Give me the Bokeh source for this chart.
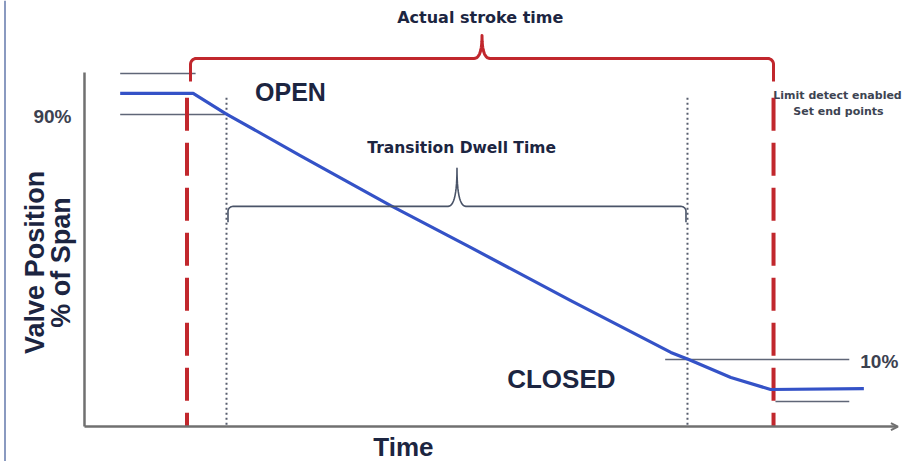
import numpy as np
from bokeh.plotting import figure
from bokeh.models import Range1d, Label, Arrow, OpenHead
from bokeh.embed import file_html
from bokeh.resources import INLINE

# ---------------- data (time in arbitrary units, position in % of span) -------------
curve_time = [4.4, 13.4, 17.4, 26.6, 37.7, 47.6, 59.9, 72.3, 74.5, 79.7, 84.6, 96.1]
curve_pos = [96.9, 96.9, 90.3, 76.6, 60.3, 46.6, 29.3, 12.3, 10.0, 4.1, 0.2, 0.5]

ninety_pct = 90.0
ten_pct = 10.0
open_band_pct = 103.4
closed_band_pct = -3.7

ninety_span = [4.4, 17.3]
open_band_span = [4.4, 13.7]
ten_span = [71.6, 94.3]
closed_band_span = [85.2, 94.3]

stroke_start, stroke_end = 12.64, 84.96
dwell_start, dwell_end = 17.51, 74.35

time_max = 100.3
axis_pos_min, axis_pos_max = -11.9, 103.7
marker_top_pct = 95.5

# ---------------- figure ----------------
W, H = 913, 461
xr = (-10.357, 102.219)
yr = (-23.31, 127.22)
PXX = W / (xr[1] - xr[0])   # px per time unit
PXY = H / (yr[1] - yr[0])   # px per % unit

p = figure(width=W, height=H, x_range=Range1d(*xr), y_range=Range1d(*yr),
           output_backend="svg", toolbar_location=None, min_border=0,
           x_axis_location=None, y_axis_location=None, outline_line_color=None,
           background_fill_color="white", border_fill_color="white")
p.grid.grid_line_color = None

NAVY = "#1c2541"
RED = "#c1272d"
BLUE = "#3452c7"
THIN = "#5f6677"
AXIS = "#707070"

# left frame border
bx0 = xr[0] + 4.5 / PXX
p.segment(x0=[bx0], y0=[yr[0]], x1=[bx0], y1=[yr[1]], line_color="#8a9ac0", line_width=2)

# axes
p.segment(x0=[0], y0=[axis_pos_min], x1=[0], y1=[axis_pos_max], line_color=AXIS, line_width=2.5)
p.add_layout(Arrow(end=OpenHead(size=7, line_color=AXIS, line_width=2),
                   x_start=0, y_start=axis_pos_min, x_end=time_max, y_end=axis_pos_min,
                   line_color=AXIS, line_width=2.5))

# thin reference lines
p.segment(x0=[open_band_span[0], ninety_span[0], ten_span[0], closed_band_span[0]],
          y0=[open_band_pct, ninety_pct, ten_pct, closed_band_pct],
          x1=[open_band_span[1], ninety_span[1], ten_span[1], closed_band_span[1]],
          y1=[open_band_pct, ninety_pct, ten_pct, closed_band_pct],
          line_color=THIN, line_width=1.6)

# dotted dwell markers
for t in (dwell_start, dwell_end):
    p.line([t, t], [marker_top_pct, axis_pos_min], line_color="#585e6e",
           line_width=2, line_dash="2 3")

# red dashed stroke markers
for t in (stroke_start, stroke_end):
    p.line([t, t], [marker_top_pct, axis_pos_min], line_color=RED,
           line_width=4, line_dash="33 12")

# valve position curve
p.line(curve_time, curve_pos, line_color=BLUE, line_width=3.2, line_join="round")


def brace(x0, x1, ybar, drop, tip, w, r):
    """Curly bracket between times x0 and x1 at level ybar; sizes in px."""
    dx, dy = 1.0 / PXX, 1.0 / PXY
    xm = 0.5 * (x0 + x1)
    xs, ys = [x0], [ybar - drop * dy]
    for a in np.linspace(np.pi, np.pi / 2, 10):
        xs.append(x0 + r * dx + r * dx * np.cos(a))
        ys.append(ybar - r * dy + r * dy * np.sin(a))
    s = np.linspace(0, 1, 14)
    bx = (1 - s) ** 2 * (xm - w * dx) + 2 * (1 - s) * s * xm + s ** 2 * xm
    by = (1 - s) ** 2 * ybar + 2 * (1 - s) * s * ybar + s ** 2 * (ybar + tip * dy)
    xs += list(bx)
    ys += list(by)
    xs += list(2 * xm - bx[::-1])
    ys += list(by[::-1])
    for a in np.linspace(np.pi / 2, 0, 10):
        xs.append(x1 - r * dx + r * dx * np.cos(a))
        ys.append(ybar - r * dy + r * dy * np.sin(a))
    xs.append(x1)
    ys.append(ybar - drop * dy)
    return xs, ys


bx, by = brace(stroke_start + 3.5 / PXX, stroke_end, 108.3, 23, 23, 8, 6)
p.line(bx, by, line_color=RED, line_width=3, line_join="round")
bx, by = brace(dwell_start + 1.5 / PXX, dwell_end - 1.5 / PXX, 60.0, 16, 38, 9, 5)
p.line(bx, by, line_color="#4a5468", line_width=1.6, line_join="round")


def lab(x, y, text, size, font="Liberation Sans", color=NAVY, angle=0.0,
        align="center", baseline="middle"):
    p.add_layout(Label(x=x, y=y, text=text, text_font=font, text_font_style="bold",
                       text_font_size=size, text_color=color, angle=angle,
                       text_align=align, text_baseline=baseline))


lab(48.8, 121.7, "Actual stroke time", "16px", font="DejaVu Sans")
lab(46.5, 78.9, "Transition Dwell Time", "15.5px", font="DejaVu Sans")
lab(25.4, 97.2, "OPEN", "25px")
lab(58.8, 3.5, "CLOSED", "26px")
lab(-3.95, 89.3, "90%", "19px", color="#3c4150")
lab(98.0, 9.35, "10%", "19px", color="#3c4150")
lab(92.85, 96.2, "Limit detect enabled", "11px", font="DejaVu Sans", color="#3d4452")
lab(92.97, 91.0, "Set end points", "11px", font="DejaVu Sans", color="#3d4452")
lab(39.33, -18.7, "Time", "26px")
lab(-6.1, 41.7, "Valve Position", "27px", angle=np.pi / 2, baseline="alphabetic")
lab(-2.9, 41.7, "% of Span", "27px", angle=np.pi / 2, baseline="alphabetic")

open("out.html", "w").write(file_html(p, INLINE))
